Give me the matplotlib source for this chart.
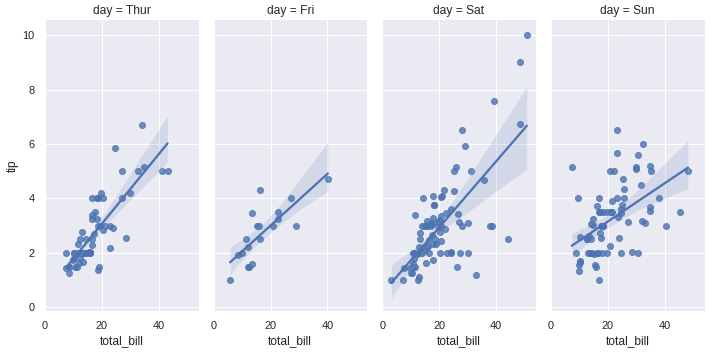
import matplotlib
matplotlib.use("Agg")
import matplotlib.pyplot as plt
import pandas as pd
import seaborn as sns

# tips data, split by day
thur_bill = [27.2, 22.76, 17.29, 19.44, 16.66, 10.07, 32.68, 15.98, 34.83, 13.03, 18.28, 24.71, 21.16,
             10.65, 12.43, 24.08, 11.69, 13.42, 14.26, 15.95, 12.48, 29.8, 8.52, 14.52, 11.38, 22.82,
             19.08, 20.27, 11.17, 12.26, 18.26, 8.51, 10.33, 14.15, 16.0, 13.16, 17.47, 34.3, 41.19,
             27.05, 16.43, 8.35, 18.64, 11.87, 9.78, 7.51,
             19.81, 28.44, 15.48, 16.58, 7.56, 10.34, 43.11, 13.0, 13.51, 18.71, 12.74, 13.0, 16.4,
             20.53, 16.47, 18.78]
thur_tip = [4.0, 3.0, 2.71, 3.0, 3.4, 1.83, 5.0, 2.03, 5.17, 2.0, 4.0, 5.85, 3.0,
            1.5, 1.8, 2.92, 2.31, 1.68, 2.5, 2.0, 2.52, 4.2, 1.48, 2.0, 2.0, 2.18,
            1.5, 2.83, 1.5, 2.0, 3.25, 1.25, 2.0, 2.0, 2.0, 2.75, 3.5, 6.7, 5.0,
            5.0, 2.3, 1.5, 1.36, 1.63, 1.73, 2.0,
            4.19, 2.56, 2.02, 4.0, 1.44, 2.0, 5.0, 2.0, 2.0, 4.0, 2.01, 2.0, 2.5,
            4.0, 3.23, 3.0]

fri_bill = [28.97, 22.49, 5.75, 16.32, 22.75, 40.17, 27.28, 12.03, 21.01, 12.46, 11.35, 15.38,
            12.16, 13.42, 8.58, 15.98, 13.42, 16.27, 10.09]
fri_tip = [3.0, 3.5, 1.0, 4.3, 3.25, 4.73, 4.0, 1.5, 3.0, 1.5, 2.5, 3.0,
           2.2, 3.48, 1.92, 3.0, 1.58, 2.5, 2.0]

sat_bill = [20.65, 17.92, 20.29, 15.77, 39.42, 19.82, 17.81, 13.37, 12.69, 21.7, 19.65, 9.55,
            18.35, 15.06, 20.69, 17.78, 24.06, 16.31, 16.93, 18.69, 31.27, 16.04,
            38.01, 26.41, 11.24, 48.27, 20.29, 13.81, 11.02, 18.29, 17.59, 20.08, 16.45, 3.07,
            20.23, 15.01, 12.02, 17.07, 26.86, 25.28, 14.73, 10.51, 17.92,
            44.3, 22.42, 20.92, 15.36, 20.49, 25.21, 18.24, 14.31, 14.0, 7.25,
            10.59, 10.63, 50.81, 15.81,
            26.59, 38.73, 24.27, 12.76, 30.06, 25.89, 48.33, 13.27, 28.17, 12.9, 28.15, 11.59,
            7.74, 30.14,
            20.45, 13.28, 22.12, 24.01, 15.69, 11.61, 10.77, 15.53, 10.07, 12.6, 32.83, 35.83,
            29.03, 27.18, 22.67, 17.82]
sat_tip = [3.35, 4.08, 2.75, 2.23, 7.58, 3.18, 2.34, 2.0, 2.0, 4.3, 3.0, 1.45,
           2.5, 3.0, 2.45, 3.27, 3.6, 2.0, 3.07, 2.31, 5.0, 2.24,
           3.0, 1.5, 1.76, 6.73, 3.21, 2.0, 1.98, 3.76, 2.64, 3.15, 2.47, 1.0,
           2.01, 2.09, 1.97, 3.0, 3.14, 5.0, 2.2, 1.25, 3.08,
           2.5, 3.48, 4.08, 1.64, 4.06, 4.29, 3.76, 4.0, 3.0, 1.0,
           1.61, 2.0, 10.0, 3.16,
           3.41, 3.0, 2.03, 2.23, 2.0, 5.16, 9.0, 2.5, 6.5, 1.1, 3.0, 1.5,
           1.44, 3.09,
           3.0, 2.72, 2.88, 2.0, 3.0, 3.39, 1.47, 3.0, 1.25, 1.0, 1.17, 4.67,
           5.92, 2.0, 2.0, 1.75]

sun_bill = [16.99, 10.34, 21.01, 23.68, 24.59, 25.29, 8.77, 26.88, 15.04, 14.78, 10.27, 35.26,
            15.42, 18.43, 14.83, 21.58, 10.33, 16.29, 16.97,
            17.46, 13.94, 9.68, 30.4, 18.29, 22.23, 32.4, 28.55, 18.04, 12.54, 10.29, 34.81,
            9.94, 25.56, 19.49,
            38.07, 23.95, 25.71, 17.31, 29.93,
            14.07, 13.13, 17.26, 24.55, 19.77, 29.85, 48.17, 25.0, 13.39, 16.49, 21.5, 12.66,
            16.21, 13.81, 17.51, 24.52, 20.76, 31.71,
            7.25, 31.85, 16.82, 32.9, 17.89, 14.48, 9.6, 34.63, 34.65, 23.33, 45.35, 23.17,
            40.55, 20.69, 20.9, 30.46, 18.15, 23.1, 15.69]
sun_tip = [1.01, 1.66, 3.5, 3.31, 3.61, 4.71, 2.0, 3.12, 1.96, 3.23, 1.71, 5.0,
           1.57, 3.0, 3.02, 3.92, 1.67, 3.71, 3.5,
           2.54, 3.06, 1.32, 5.6, 3.0, 5.0, 6.0, 2.05, 3.0, 2.5, 2.6, 5.2,
           1.56, 4.34, 3.51,
           4.0, 2.55, 4.0, 3.5, 5.07,
           2.5, 2.0, 2.74, 2.0, 2.0, 5.14, 5.0, 3.75, 2.61, 2.0, 3.5, 2.5,
           2.0, 2.0, 3.0, 3.48, 2.24, 4.5,
           5.15, 3.18, 4.0, 3.11, 2.0, 2.0, 4.0, 3.55, 3.68, 5.65, 3.5, 6.5,
           3.0, 5.0, 3.5, 2.0, 3.5, 4.0, 1.5]

days = ["Thur", "Fri", "Sat", "Sun"]

frames = []
for day, bill, tip in zip(days, [thur_bill, fri_bill, sat_bill, sun_bill],
                          [thur_tip, fri_tip, sat_tip, sun_tip]):
    frames.append(pd.DataFrame({"total_bill": bill, "tip": tip, "day": day}))
tips = pd.concat(frames, ignore_index=True)

sns.set_theme()
plt.rcParams["font.family"] = ["Liberation Sans", "DejaVu Sans"]

g = sns.lmplot(data=tips, x="total_bill", y="tip", col="day", col_order=days,
               height=5, aspect=0.5, seed=0)
g.set(xlim=(-0.25, 54.1), ylim=(-0.14, 10.55), xticks=[0, 20, 40])
# original looks like a 10x5 in figure saved at 72 dpi
g.figure.set_size_inches(712 / 72, 352 / 72)
g.figure.subplots_adjust(left=0.0622, right=0.990, bottom=0.116, top=0.943, wspace=0.092)
g.figure.savefig("out.png", dpi=72)
